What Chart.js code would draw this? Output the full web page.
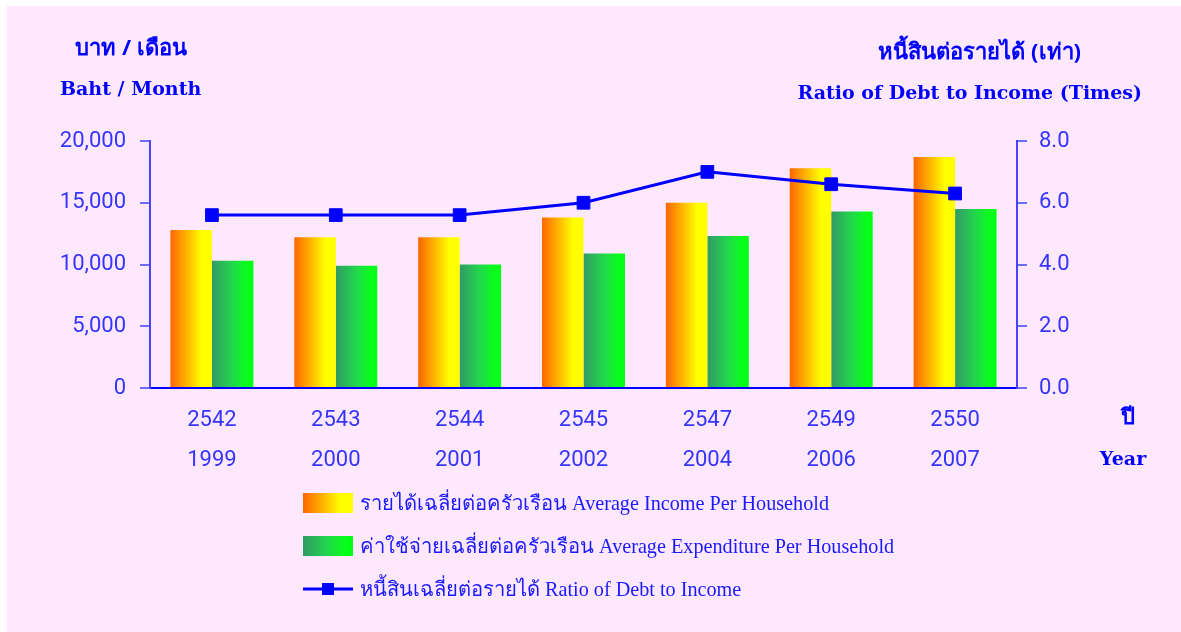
<!DOCTYPE html>
<html>
<head>
<meta charset="utf-8">
<script src="https://cdn.jsdelivr.net/npm/chart.js@4.4.0/dist/chart.umd.min.js"></script>
<style>
  html, body { margin: 0; padding: 0; background: #ffffff; }
  #wrap { position: relative; width: 1181px; height: 632px; overflow: hidden; }
  #panel { position: absolute; left: 7px; top: 6px; right: 0; bottom: 0; background: #FDE8FD; }
  #c { position: absolute; left: 0; top: 0; }
  .t { position: absolute; color: #0000FF; white-space: nowrap; line-height: 1; }
  .thb { font-family: "Noto Sans", "DejaVu Sans", sans-serif; font-weight: bold; font-size: 22px; }
  .enb { font-family: "DejaVu Serif", serif; font-weight: bold; font-size: 19px; }
  .leg { position: absolute; left: 303px; font-family: "Liberation Serif", "Noto Sans", serif; font-size: 20.2px; color: #1a1aff; white-space: nowrap; }
  .leg .box { position: absolute; left: 0; width: 50px; height: 20px; }
  .leg .txt { position: absolute; left: 57px; line-height: 1; }
</style>
</head>
<body>
<div id="wrap">
  <div id="panel"></div>
  <canvas id="c" width="1181" height="632"></canvas>
  <div class="t thb" style="left:131px; top:46px; transform:translate(-50%,-50%);">บาท / เดือน</div>
  <div class="t enb" style="left:60px; top:88px; transform:translateY(-50%);">Baht / Month</div>
  <div class="t thb" style="right:100px; top:50px; transform:translateY(-50%);">หนี้สินต่อรายได้ (เท่า)</div>
  <div class="t enb" style="right:39px; top:92px; transform:translateY(-50%);">Ratio of Debt to Income (Times)</div>
  <div class="t thb" style="left:1128px; top:415px; transform:translate(-50%,-50%);">ปี</div>
  <div class="t enb" style="left:1123px; top:458px; transform:translate(-50%,-50%);">Year</div>
  <div id="legend"></div>
</div>
<script>
// ---- data ----
const thaiYears = ['2542', '2543', '2544', '2545', '2547', '2549', '2550'];
const adYears   = ['1999', '2000', '2001', '2002', '2004', '2006', '2007'];
const avgIncome      = [12800, 12200, 12200, 13800, 15000, 17800, 18700];
const avgExpenditure = [10300,  9900, 10000, 10900, 12300, 14300, 14500];
const debtRatio      = [5.6, 5.6, 5.6, 6.0, 7.0, 6.6, 6.3];
const leftTicks  = [0, 5000, 10000, 15000, 20000];
const rightTicks = [0, 2, 4, 6, 8];
const seriesNames = [
  'รายได้เฉลี่ยต่อครัวเรือน Average Income Per Household',
  'ค่าใช้จ่ายเฉลี่ยต่อครัวเรือน Average Expenditure Per Household',
  'หนี้สินเฉลี่ยต่อรายได้ Ratio of Debt to Income'
];

const labels = thaiYears.map((t, i) => [t, adYears[i]]);
const CAT_PCT = 0.67;

const incomeStops = [[0, '#FF6600'], [0.45, '#FFC000'], [0.75, '#FFFF00'], [1, '#FFFF00']];
const expendStops = [[0, '#339966'], [0.5, '#22D84C'], [0.85, '#08FF1A'], [1, '#00FF18']];

function barGradient(side, stops) {
  return function (ctx) {
    const chart = ctx.chart;
    const area = chart.chartArea;
    const xs = chart.scales && chart.scales.x;
    if (!area || !xs || ctx.dataIndex === undefined) return stops[stops.length - 1][1];
    const center = xs.getPixelForValue(ctx.dataIndex);
    const catW = (area.right - area.left) / labels.length;
    const bw = catW * CAT_PCT / 2;
    const left = side === 0 ? center - bw : center;
    const g = chart.ctx.createLinearGradient(left, 0, left + bw, 0);
    stops.forEach(s => g.addColorStop(s[0], s[1]));
    return g;
  };
}

const tickColor = '#3535ff';
const tickFont = { family: 'Roboto, "Liberation Sans", sans-serif', size: 22, weight: 'normal' };

new Chart(document.getElementById('c'), {
  data: {
    labels: labels,
    datasets: [
      {
        type: 'line', label: seriesNames[2], data: debtRatio, yAxisID: 'y1', order: 0,
        borderColor: '#0000FF', backgroundColor: '#0000FF', borderWidth: 3,
        pointStyle: 'rect', pointRadius: 9, pointHoverRadius: 9, pointBorderWidth: 1,
        pointBorderColor: '#0000FF', pointBackgroundColor: '#0000FF', tension: 0
      },
      {
        type: 'bar', label: seriesNames[0], data: avgIncome, yAxisID: 'y', order: 1,
        backgroundColor: barGradient(0, incomeStops), borderWidth: 0,
        barPercentage: 1, categoryPercentage: CAT_PCT
      },
      {
        type: 'bar', label: seriesNames[1], data: avgExpenditure, yAxisID: 'y', order: 2,
        backgroundColor: barGradient(1, expendStops), borderWidth: 0,
        barPercentage: 1, categoryPercentage: CAT_PCT
      }
    ]
  },
  options: {
    responsive: false,
    animation: false,
    layout: { padding: { top: 141, left: 0, right: 0, bottom: 0 } },
    plugins: { legend: { display: false }, tooltip: { enabled: false } },
    scales: {
      x: {
        afterFit: s => { s.height = 244; },
        grid: { display: false },
        border: { display: true, color: '#0000FF', width: 2 },
        ticks: { color: tickColor, font: { ...tickFont, lineHeight: 40 / 22 }, padding: 4, maxRotation: 0, autoSkip: false }
      },
      y: {
        position: 'left', min: 0, max: 20000,
        afterFit: s => { s.width = 150; },
        afterBuildTicks: s => { s.ticks = leftTicks.map(v => ({ value: v })); },
        grid: { display: true, drawOnChartArea: false, drawTicks: true, tickLength: 10, color: '#6c6cff', lineWidth: 2 },
        border: { display: true, color: '#4444ff', width: 2 },
        ticks: { color: tickColor, font: tickFont, padding: 14,
          callback: v => v.toLocaleString('en-US') }
      },
      y1: {
        position: 'right', min: 0, max: 8,
        afterFit: s => { s.width = 164; },
        afterBuildTicks: s => { s.ticks = rightTicks.map(v => ({ value: v })); },
        grid: { display: true, drawOnChartArea: false, drawTicks: true, tickLength: 10, color: '#6c6cff', lineWidth: 2 },
        border: { display: true, color: '#4444ff', width: 2 },
        ticks: { color: tickColor, font: tickFont, padding: 12,
          callback: v => Number(v).toFixed(1) }
      }
    }
  }
});

// ---- HTML legend ----
const legendEl = document.getElementById('legend');
const rowsY = [503, 546, 589];
const gradCss = stops => 'linear-gradient(to right, ' + stops.map(s => s[1] + ' ' + (s[0] * 100) + '%').join(', ') + ')';
[0, 1, 2].forEach(i => {
  const row = document.createElement('div');
  row.className = 'leg';
  row.style.top = rowsY[i] + 'px';
  const box = document.createElement('div');
  box.className = 'box';
  box.style.top = '-10px';
  if (i < 2) {
    box.style.background = gradCss(i === 0 ? incomeStops : expendStops);
  } else {
    box.innerHTML = '<svg width="50" height="20"><line x1="0" y1="10" x2="50" y2="10" stroke="#0000FF" stroke-width="3"/><rect x="19" y="4" width="12" height="12" fill="#0000FF"/></svg>';
  }
  const txt = document.createElement('div');
  txt.className = 'txt';
  txt.style.top = '0px';
  txt.style.transform = 'translateY(-50%)';
  txt.textContent = seriesNames[i];
  row.appendChild(box);
  row.appendChild(txt);
  legendEl.appendChild(row);
});
</script>
</body>
</html>
